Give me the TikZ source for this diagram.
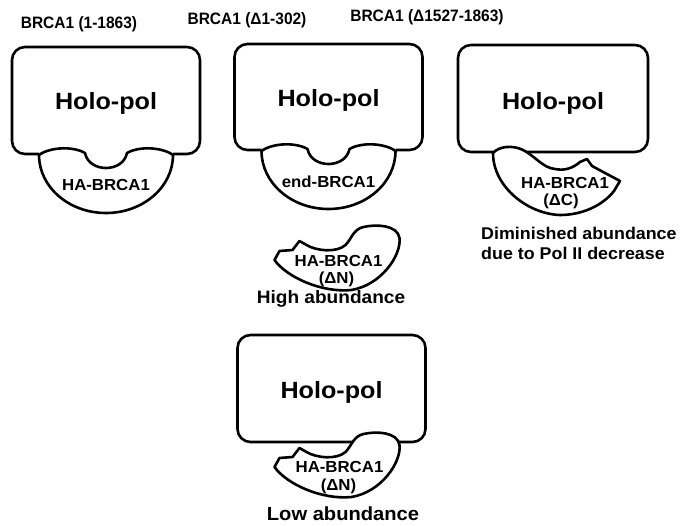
\documentclass[tikz,border=0pt]{standalone}
\usepackage{fontspec}
\setmainfont{Liberation Sans}
\usepackage{graphicx}
\newcommand{\hs}[2][1.05]{\scalebox{#1}[1]{#2}}
\begin{document}
\begin{tikzpicture}[x=1pt,y=-1pt,
  outl/.style={draw=black, line width=2.6pt, line join=round},
  part/.style={outl, fill=white},
  holo/.style={font=\fontsize{23.5}{24}\selectfont\bfseries, inner sep=0pt},
  lbl/.style={font=\fontsize{16}{16}\selectfont\bfseries, inner sep=0pt},
  captxt/.style={font=\fontsize{18}{20}\selectfont\bfseries, inner sep=0pt},
  ttl/.style={font=\fontsize{16.5}{17}\selectfont\bfseries, inner sep=0pt, anchor=base}]
\useasboundingbox[fill=white] (0,0) rectangle (680,525);

% titles
\node[ttl] (t1) at (79,28) {\hs[0.94]{BRCA1 (1-1863)}};
\node[ttl] (t2) at (247,24) {\hs[0.94]{BRCA1 (Δ1-302)}};
\node[ttl] (t3) at (427,21) {\hs[0.94]{BRCA1 (Δ1527-1863)}};

% complex 1
\begin{scope}[shift={(106,154)}]
  \draw[outl, rounded corners=13] (-67,0) -- (-94,0) -- (-94,-107) -- (94,-107) -- (94,0) -- (67,0);
  \draw[part] (-67,1) .. controls (-56,-7) and (-33,-8) .. (-21,-1)
     .. controls (-17,19) and (17,19) .. (21,-1)
     .. controls (33,-8) and (56,-7) .. (67,1)
     arc[start angle=0, end angle=180, x radius=67, y radius=58] -- cycle;
  \node[holo] (holo1) at (0,-51) {\hs[1.07]{Holo-pol}};
  \node[lbl] (ha1) at (0,31) {\hs{HA-BRCA1}};
\end{scope}

% complex 2
\begin{scope}[shift={(328.5,150)}]
  \draw[outl, rounded corners=13] (-67,0) -- (-94,0) -- (-94,-106) -- (94,-106) -- (94,0) -- (67,0);
  \draw[part] (-67,1) .. controls (-56,-7) and (-33,-8) .. (-21,-1)
     .. controls (-17,19) and (17,19) .. (21,-1)
     .. controls (33,-8) and (56,-7) .. (67,1)
     arc[start angle=0, end angle=180, x radius=67, y radius=58] -- cycle;
  \node[holo] (holo2) at (0,-50) {\hs[1.07]{Holo-pol}};
  \node[lbl] (end2) at (0,32) {\hs{end-BRCA1}};
\end{scope}

% complex 3
\begin{scope}[shift={(553,152)}]
  \draw[outl, rounded corners=13] (-95,0) rectangle (95,-107);
  \draw[part] (-60,1) .. controls (-54,-6) and (-40,-7) .. (-30,-2)
     .. controls (-18,4) and (-10,16) .. (2,17)
     .. controls (12,19) and (20,16) .. (27,10)
     -- (34,7) -- (39,14) -- (67,29) -- (61,39)
     .. controls (50,53) and (30,63) .. (7,63)
     .. controls (-25,62) and (-60,35) .. (-60,1) -- cycle;
  \node[holo] (holo3) at (0,-49) {\hs[1.07]{Holo-pol}};
  \node[lbl] (ha3) at (12,31) {\hs{HA-BRCA1}};
  \node[lbl] (dc3) at (8,49) {\hs{(ΔC)}};
\end{scope}
\node[captxt, anchor=west] (dim1) at (481,233) {\hs{\fontsize{17}{18}\selectfont Diminished abundance}};
\node[captxt, anchor=west] (dim2) at (481,253) {\hs{\fontsize{17}{18}\selectfont due to Pol II decrease}};

% free Delta N
\begin{scope}[shift={(331.5,235)}]
  \draw[part] (-57,25) -- (-52,16) -- (-39,15) -- (-32,6) -- (-25,10)
     .. controls (-15,16) and (5,18) .. (14,10)
     .. controls (20,4) and (22,-6) .. (32,-8)
     .. controls (45,-11) and (66,-10) .. (68,3)
     .. controls (70,20) and (50,50) .. (20,55)
     .. controls (-10,58) and (-45,42) .. (-57,25) -- cycle;
  \node[lbl] (ha4) at (7,26) {\hs{HA-BRCA1}};
  \node[lbl] (dn4) at (5,44) {\hs{(ΔN)}};
\end{scope}
\node[captxt] (high) at (331,299) {\hs[1.06]{High abundance}};

% complex 5
\begin{scope}[shift={(331.5,442)}]
  \draw[outl, rounded corners=13] (-94,0) rectangle (94,-107);
  \draw[part] (-57,25) -- (-52,16) -- (-39,15) -- (-32,6) -- (-25,10)
     .. controls (-15,16) and (5,18) .. (14,10)
     .. controls (20,4) and (22,-6) .. (32,-8)
     .. controls (45,-11) and (66,-10) .. (68,3)
     .. controls (70,20) and (50,50) .. (20,55)
     .. controls (-10,58) and (-45,42) .. (-57,25) -- cycle;
  \node[holo] (holo5) at (0,-50) {\hs[1.07]{Holo-pol}};
  \node[lbl] (ha5) at (8,25) {\hs{HA-BRCA1}};
  \node[lbl] (dn5) at (7,44) {\hs{(ΔN)}};
\end{scope}
\node[captxt] (low) at (343,514) {\hs[1.06]{\fontsize{19}{20}\selectfont Low abundance}};
\end{tikzpicture}
\end{document}
